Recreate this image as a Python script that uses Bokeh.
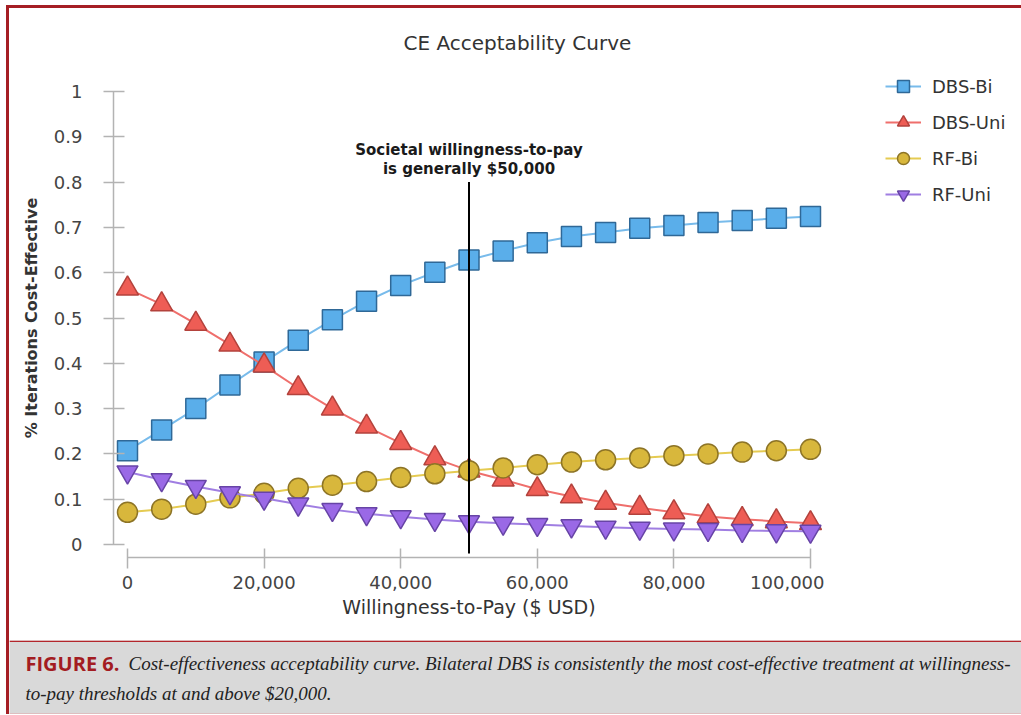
from bokeh.plotting import figure
from bokeh.models import (Range1d, FixedTicker, NumeralTickFormatter, Legend,
                          LegendItem, Label, Span)
from bokeh.layouts import column, row
from bokeh.embed import file_html
from bokeh.resources import INLINE

# Willingness-to-pay thresholds (USD)
wtp = [0, 5000, 10000, 15000, 20000, 25000, 30000, 35000, 40000, 45000, 50000,
       55000, 60000, 65000, 70000, 75000, 80000, 85000, 90000, 95000, 100000]

# Share of iterations in which each strategy is cost-effective
dbs_bi = [0.207, 0.253, 0.300, 0.352, 0.403, 0.451, 0.496, 0.537, 0.572, 0.601, 0.628,
          0.648, 0.666, 0.680, 0.689, 0.698, 0.704, 0.711, 0.715, 0.720, 0.724]
dbs_uni = [0.565, 0.530, 0.487, 0.441, 0.395, 0.345, 0.300, 0.260, 0.224, 0.190, 0.163,
           0.143, 0.122, 0.106, 0.092, 0.081, 0.071, 0.062, 0.056, 0.051, 0.047]
rf_bi = [0.071, 0.078, 0.089, 0.103, 0.113, 0.124, 0.131, 0.139, 0.148, 0.156, 0.163,
         0.169, 0.176, 0.182, 0.187, 0.191, 0.196, 0.200, 0.204, 0.207, 0.210]
rf_uni = [0.160, 0.143, 0.128, 0.114, 0.102, 0.089, 0.077, 0.068, 0.061, 0.055, 0.050,
          0.047, 0.044, 0.041, 0.038, 0.036, 0.034, 0.033, 0.031, 0.030, 0.029]

series_names = ["DBS-Bi", "DBS-Uni", "RF-Bi", "RF-Uni"]
series_values = [dbs_bi, dbs_uni, rf_bi, rf_uni]

x_ticks = [0, 20000, 40000, 60000, 80000, 100000]
y_ticks = [0, 0.1, 0.2, 0.3, 0.4, 0.5, 0.6, 0.7, 0.8, 0.9, 1]

# Reference threshold and the vertical extent of its marker line
wtp_threshold = 50000
threshold_line_y = [-0.02, 0.80]

SANS = "DejaVu Sans"
AXIS_GREY = "#b3b3b3"
FRAME_RED = "#a51e24"
NAN = float("nan")

# marker, fill, outline, line colour, marker size
styles = [
    ("square", "#5aaeea", "#2f6897", "#78bbeb", 20),
    ("triangle", "#ee5d55", "#b3423c", "#ef6f6c", 22),
    ("circle", "#d8b73c", "#8d7426", "#e5cb52", 20),
    ("inverted_triangle", "#9a69e6", "#6744a6", "#a07ee2", 21),
]

p = figure(width=815, height=632,
           x_range=Range1d(-2050, 102050), y_range=Range1d(-0.0287, 1.0287),
           output_backend="svg", toolbar_location=None,
           min_border_left=104, min_border_right=0,
           min_border_top=70, min_border_bottom=83,
           background_fill_color="white", border_fill_color="white",
           outline_line_color=None)

p.title.text = "CE Acceptability Curve"
p.title.align = "left"
p.title.offset = 290
p.title.vertical_align = "top"
p.title.standoff = 44
p.title.text_font = SANS
p.title.text_font_size = "20px"
p.title.text_font_style = "normal"
p.title.text_color = "#333333"

p.xgrid.visible = False
p.ygrid.visible = False

xa = p.xaxis[0]
xa.bounds = (0, 100000)
xa.ticker = FixedTicker(ticks=x_ticks)
xa.formatter = NumeralTickFormatter(format="0,0")
xa.minor_tick_line_color = None
xa.major_tick_in = 9
xa.major_tick_out = 11
xa.major_label_standoff = 7
xa.axis_label = "Willingness-to-Pay ($ USD)"
xa.axis_label_standoff = 4

ya = p.yaxis[0]
ya.bounds = (0, 1)
ya.ticker = FixedTicker(ticks=y_ticks)
ya.formatter = NumeralTickFormatter(format="0.[0]")
ya.minor_tick_line_color = None
ya.major_tick_in = 11
ya.major_tick_out = 10
ya.major_label_standoff = 21
ya.axis_label = "% Iterations Cost-Effective"
ya.axis_label_standoff = 10
ya.axis_label_text_font_style = "bold"
ya.axis_label_text_font_size = "16px"

for ax in (xa, ya):
    ax.axis_line_color = AXIS_GREY
    ax.axis_line_width = 1.5
    ax.major_tick_line_color = AXIS_GREY
    ax.major_tick_line_width = 1.5
    ax.major_label_text_font = SANS
    ax.major_label_text_font_size = "18px"
    ax.major_label_text_color = "#444444"
    ax.axis_label_text_font = SANS
    ax.axis_label_text_color = "#333333"
xa.axis_label_text_font_size = "19px"
xa.axis_label_text_font_style = "normal"

for vals, (marker, fill, edge, lcol, size) in zip(series_values, styles):
    p.line(wtp, vals, line_color=lcol, line_width=2)
    p.scatter(wtp, vals, marker=marker, size=size, fill_color=fill,
              line_color=edge, line_width=1.5)

# Threshold line
p.segment(x0=[wtp_threshold], y0=[threshold_line_y[0]],
          x1=[wtp_threshold], y1=[threshold_line_y[1]],
          line_color="black", line_width=2)

for txt, yy in (("Societal willingness-to-pay", 0.870), ("is generally $50,000", 0.830)):
    p.add_layout(Label(x=wtp_threshold, y=yy, text=txt, text_align="center",
                       text_baseline="middle", text_font=SANS, text_font_style="bold",
                       text_font_size="15px", text_color="#1a1a1a"))

# Legend strip to the right of the chart; x and y in pixels
leg = figure(width=197, height=632, x_range=Range1d(0, 197), y_range=Range1d(0, 632),
             output_backend="svg", toolbar_location=None,
             x_axis_location=None, y_axis_location=None,
             min_border=0, min_border_left=0, min_border_right=0,
             min_border_top=0, min_border_bottom=0,
             background_fill_color="white", border_fill_color="white",
             outline_line_color=None)
leg.xgrid.visible = False
leg.ygrid.visible = False

# legend keys: same styling as the chart series, with no drawable points
items = []
for name, (marker, fill, edge, lcol, size) in zip(series_names, styles):
    lr = leg.line([NAN], [NAN], line_color=lcol, line_width=2)
    sr = leg.scatter([NAN], [NAN], marker=marker, size=size, fill_color=fill,
                     line_color=edge, line_width=1.5)
    items.append(LegendItem(label=name, renderers=[lr, sr]))

legend = Legend(items=items, location=(61, 431), padding=0, margin=0,
                border_line_color=None, background_fill_alpha=0,
                glyph_width=36, glyph_height=30, spacing=6, label_standoff=11,
                label_text_font=SANS, label_text_font_size="18px",
                label_text_color="#333333", label_text_baseline="middle")
leg.add_layout(legend)

# Caption panel: frame covers the whole canvas, x and y in pixels
cap = figure(width=1012, height=74, x_range=Range1d(0, 1012), y_range=Range1d(0, 74),
             output_backend="svg", toolbar_location=None,
             x_axis_location=None, y_axis_location=None,
             min_border=0, min_border_left=0, min_border_right=0,
             min_border_top=0, min_border_bottom=0,
             background_fill_color="#d9d9d9",
             border_fill_color="#d9d9d9", outline_line_color=None)
cap.xgrid.visible = False
cap.ygrid.visible = False

# keep each frame independent of its neighbours in the layout
for fig in (p, leg, cap):
    if "frame_align" in fig.properties():
        fig.frame_align = False

cap.add_layout(Span(location=73.2, dimension="width", line_color="#b3262b", line_width=1.6))
cap.add_layout(Span(location=0.5, dimension="width", line_color="#e3a3a5", line_width=1))
cap.add_layout(Label(x=16, y=51, text="FIGURE 6.", text_baseline="middle",
                     text_font="Open Sans", text_font_style="bold",
                     text_font_size="20px", text_color="#a31c22"))
cap.add_layout(Label(x=119, y=51,
                     text="Cost-effectiveness acceptability curve. Bilateral DBS is consistently "
                          "the most cost-effective treatment at willingness-",
                     text_baseline="middle", text_font="Liberation Serif",
                     text_font_style="italic", text_font_size="19px", text_color="#222222"))
cap.add_layout(Label(x=16, y=21, text="to-pay thresholds at and above $20,000.",
                     text_baseline="middle", text_font="Liberation Serif",
                     text_font_style="italic", text_font_size="19px", text_color="#222222"))

layout = column(row(p, leg), cap,
                styles={"margin-left": "6px", "margin-top": "5px",
                        "border-left": "3px solid " + FRAME_RED,
                        "border-top": "3px solid " + FRAME_RED})

open("out.html", "w").write(file_html(layout, INLINE))
